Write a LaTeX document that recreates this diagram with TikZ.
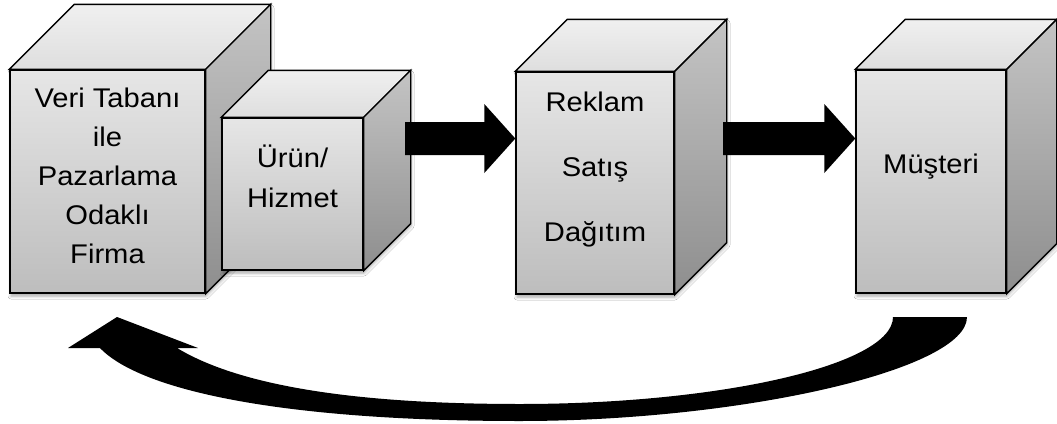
\documentclass[tikz,border=0pt]{standalone}
\usepackage{fontspec}
\setmainfont{Liberation Sans}[FakeStretch=1.08]
\usetikzlibrary{calc,shadows.blur}

\definecolor{frontTop}{HTML}{E6E6E6}
\definecolor{frontBot}{HTML}{BDBDBD}
\definecolor{sideTop}{HTML}{C4C4C4}
\definecolor{sideBot}{HTML}{8E8E8E}
\definecolor{lidTop}{HTML}{F0F0F0}
\definecolor{lidBot}{HTML}{DEDEDE}

% faces of a cuboid whose front face is node #1, with depth #2
\newcommand\cuboidfaces[2]{%
  \shade[edge, top color=lidTop, bottom color=lidBot]
    (#1.north west) -- ++(#2,-#2) -- ($(#1.north east)+(#2,-#2)$) -- (#1.north east) -- cycle;
  \shade[edge, top color=sideTop, bottom color=sideBot]
    (#1.north east) -- ($(#1.north east)+(#2,-#2)$) -- ($(#1.south east)+(#2,-#2)$) -- (#1.south east) -- cycle;
}
% soft shadow under a cuboid outline
\newcommand\cuboidshadow[4]{% centre, width, height, depth
  \path[blur shadow={shadow xshift=1pt, shadow yshift=-3pt, shadow blur radius=3pt, shadow opacity=35}]
    ($#1+(-#2/2,#3/2)$) -- ($#1+(-#2/2,-#3/2)$) -- ++(#4,-#4) -- ++(#2,0) -- ++(0,#3) -- ($#1+(#2/2,#3/2)$) -- cycle;
}
% thick block arrow from coordinate #1 to the point #2
\newcommand\blockarrow[2]{%
  \fill[black] ($#1+(0,-16.5)$) -- ($#2+(-31,-16.5)$) -- ($#2+(-31,-34.5)$) -- #2
    -- ($#2+(-31,34.5)$) -- ($#2+(-31,16.5)$) -- ($#1+(0,16.5)$) -- cycle;
}

\begin{document}
\begin{tikzpicture}[x=1pt,y=-1pt,
  edge/.style={draw=black, line width=1.4pt, line join=miter},
  front/.style={edge, rectangle, inner sep=0pt, top color=frontTop, bottom color=frontBot},
  caption/.style={inner sep=0pt, align=center, text=black}
]
\useasboundingbox (0,0) rectangle (1057,423);
\fill[white] (0,0) rectangle (1057,423);

% company box
\cuboidshadow{(107.5,181.5)}{195}{223}{65}
\node[front, minimum width=195pt, minimum height=223pt] (f1) at (107.5,181.5) {};
\cuboidfaces{f1}{65}
% product box
\cuboidshadow{(292.5,194)}{141}{152}{47}
\node[front, minimum width=141pt, minimum height=152pt] (f2) at (292.5,194) {};
\cuboidfaces{f2}{47}
% channels box
\cuboidshadow{(595,183)}{158}{222}{52}
\node[front, minimum width=158pt, minimum height=222pt] (f3) at (595,183) {};
\cuboidfaces{f3}{52}
% customer box
\cuboidshadow{(931,181.5)}{150}{223}{50}
\node[front, minimum width=150pt, minimum height=223pt] (f4) at (931,181.5) {};
\cuboidfaces{f4}{50}

% labels
\node[caption, font=\fontsize{27}{39}\selectfont] (t1) at (107.5,175.5)
  {Veri Tabanı\\ile\\Pazarlama\\Odaklı\\Firma};
\node[caption, font=\fontsize{27}{40}\selectfont] (t2) at (292.5,176.5) {Ürün/\\Hizmet};
\node[caption, font=\fontsize{27}{65}\selectfont] (t3) at (595,170) {Reklam\\Satış\\Dağıtım};
\node[caption, font=\fontsize{27}{39}\selectfont, anchor=base] (t4) at (931,173) {Müşteri};

% flow arrows
\coordinate (a1s) at (405,138.5);
\coordinate (a2s) at (723,138.5);
\blockarrow{(a1s)}{(f3.west |- a1s)}
\blockarrow{(a2s)}{(f4.west |- a2s)}

% feedback arrow from customer back to company
\coordinate (tailIn) at (893,317);
\coordinate (tailOut) at (967,317);
\coordinate (tip) at (117,317);
\fill[black, line join=round]
  (tailOut) .. controls (967,370) and (740,421) .. (520,421)
  .. controls (280,421) and (140,390) .. (100,348)
  -- (68,348) -- (tip) -- (198,348) -- (177,348)
  .. controls (230,380) and (330,404) .. (520,404)
  .. controls (720,404) and (893,365) .. (tailIn) -- cycle;
\end{tikzpicture}
\end{document}
